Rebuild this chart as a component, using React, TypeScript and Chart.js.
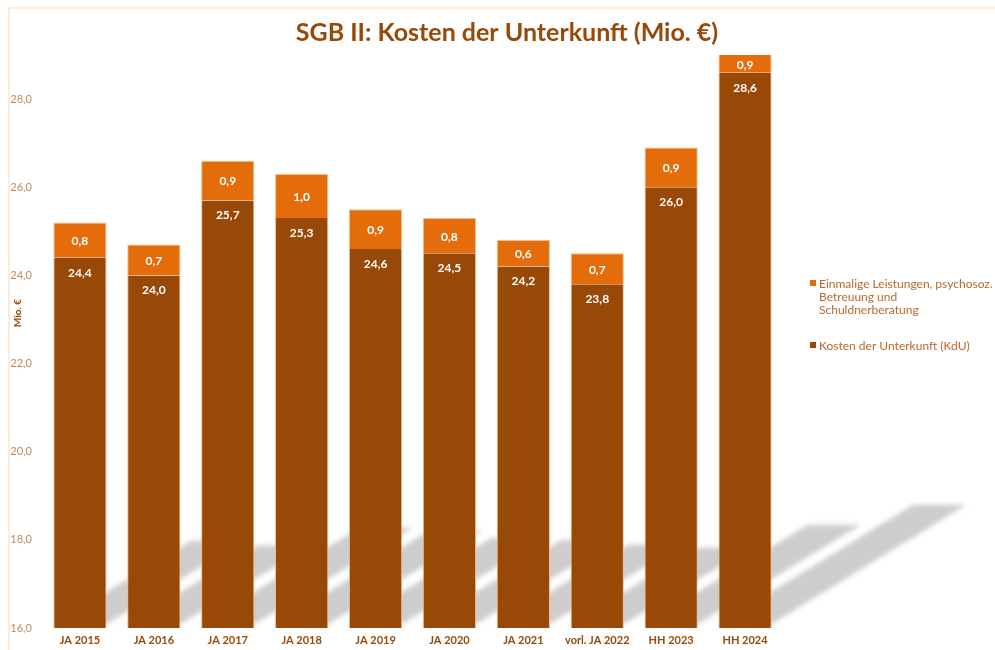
import React, { useEffect, useRef } from "react";
import { Chart, registerables } from "chart.js";

Chart.register(...registerables);

const categories = [
  "JA 2015", "JA 2016", "JA 2017", "JA 2018", "JA 2019",
  "JA 2020", "JA 2021", "vorl. JA 2022", "HH 2023", "HH 2024",
];
const kduValues = [24.4, 24.0, 25.7, 25.3, 24.6, 24.5, 24.2, 23.8, 26.0, 28.6];
const einmaligValues = [0.8, 0.7, 0.9, 1.0, 0.9, 0.8, 0.6, 0.7, 0.9, 0.9];
const yMin = 16;
const yMax = 29;
const yStep = 2;
const titleText = "SGB II: Kosten der Unterkunft (Mio. €)";
const yAxisTitle = "Mio. €";
const kduLabel = "Kosten der Unterkunft (KdU)";
const einmaligLabelLines = ["Einmalige Leistungen, psychosoz.", "Betreuung und", "Schuldnerberatung"];

const DARK = "#984807";
const ORANGE = "#E46C0A";
const FONT = "Lato, 'DejaVu Sans', sans-serif";
const fmt = (v: number) => v.toFixed(1).replace(".", ",");

const decorPlugin = {
  id: "decor",
  beforeDatasetsDraw(chart: any) {
    const ctx = chart.ctx;
    const area = chart.chartArea;
    const yScale = chart.scales.y;
    const m0 = chart.getDatasetMeta(0).data;
    const base = yScale.getPixelForValue(yMin);
    ctx.save();
    ctx.filter = "blur(2.5px)";
    ctx.fillStyle = "#cdcdcd";
    for (let i = 0; i < m0.length; i++) {
      const b: any = m0[i];
      const xCenter = b.x;
      const w = b.width;
      const topVal = kduValues[i] + einmaligValues[i];
      const top = Math.max(yScale.getPixelForValue(topVal), area.top);
      const h = base - top;
      const dy = 0.215 * h;
      const dx = 1.58 * dy;
      const lift = 4;
      const xl = xCenter - w / 2;
      const xr = xCenter + w / 2;
      ctx.beginPath();
      ctx.moveTo(xl, base - lift);
      ctx.lineTo(xr, base - lift);
      ctx.lineTo(xr + dx, base - dy);
      ctx.lineTo(xl + dx, base - dy);
      ctx.closePath();
      ctx.fill();
    }
    ctx.restore();
  },
  afterDatasetsDraw(chart: any) {
    const ctx = chart.ctx;
    const area = chart.chartArea;
    const m0 = chart.getDatasetMeta(0).data;
    const m1 = chart.getDatasetMeta(1).data;
    ctx.save();
    ctx.fillStyle = "#ffffff";
    ctx.font = `bold 12px ${FONT}`;
    ctx.textAlign = "center";
    ctx.textBaseline = "middle";
    for (let i = 0; i < m0.length; i++) {
      const b0: any = m0[i];
      ctx.fillText(fmt(kduValues[i]), b0.x, b0.y + 15);
      const b1: any = m1[i];
      const top = Math.max(b1.y, area.top);
      ctx.fillText(fmt(einmaligValues[i]), b1.x, (top + b1.base) / 2 + 1);
    }
    ctx.restore();
  },
  afterDraw(chart: any) {
    const ctx = chart.ctx;
    const area = chart.chartArea;
    const W = chart.width;
    const H = chart.height;
    ctx.save();
    ctx.strokeStyle = "#fde3cc";
    ctx.lineWidth = 1.5;
    ctx.beginPath();
    ctx.moveTo(9, H);
    ctx.lineTo(9, 8);
    ctx.lineTo(W, 8);
    ctx.stroke();
    ctx.fillStyle = DARK;
    ctx.font = `bold 25px ${FONT}`;
    ctx.textAlign = "center";
    ctx.textBaseline = "middle";
    ctx.fillText(titleText, 507, 33);
    ctx.save();
    ctx.translate(18, 313);
    ctx.rotate(-Math.PI / 2);
    ctx.font = `bold 10px ${FONT}`;
    ctx.fillText(yAxisTitle, 0, 0);
    ctx.restore();
    const lx = area.right + 28;
    ctx.textAlign = "left";
    ctx.font = `12px ${FONT}`;
    ctx.fillStyle = ORANGE;
    ctx.fillRect(lx, 280, 6, 6);
    ctx.fillStyle = "#b8692e";
    einmaligLabelLines.forEach((t, k) => ctx.fillText(t, lx + 9, 284 + k * 13));
    ctx.fillStyle = DARK;
    ctx.fillRect(lx, 342, 6, 6);
    ctx.fillStyle = "#b8692e";
    ctx.fillText(kduLabel, lx + 9, 346);
    ctx.restore();
  },
};

export default function App() {
  const ref = useRef<HTMLCanvasElement>(null);
  useEffect(() => {
    const chart = new Chart(ref.current as HTMLCanvasElement, {
      type: "bar",
      data: {
        labels: categories,
        datasets: [
          {
            label: kduLabel,
            data: kduValues,
            backgroundColor: DARK,
            borderColor: "#f2b783",
            borderWidth: 1,
            borderSkipped: "top",
            clip: 0,
            categoryPercentage: 0.72,
            barPercentage: 1,
          },
          {
            label: einmaligLabelLines.join(" "),
            data: einmaligValues,
            backgroundColor: ORANGE,
            borderColor: "#f7bd8a",
            borderWidth: 1,
            borderSkipped: "bottom",
            clip: 0,
            categoryPercentage: 0.72,
            barPercentage: 1,
          },
        ],
      },
      options: {
        responsive: false,
        animation: false,
        layout: { padding: { left: 10, right: 213, top: 55, bottom: 0 } },
        plugins: {
          legend: { display: false },
          tooltip: { enabled: false },
          title: { display: false },
        },
        scales: {
          x: {
            stacked: true,
            grid: { display: false, drawTicks: false },
            border: { display: false },
            ticks: {
              color: DARK,
              font: { family: FONT, size: 11, weight: "bold" },
              padding: 6,
              maxRotation: 0,
              autoSkip: false,
            },
            afterFit(scale: any) {
              scale.height = 22;
            },
          },
          y: {
            stacked: true,
            min: yMin,
            max: yMax,
            grid: { display: false, drawTicks: false },
            border: { display: false },
            ticks: {
              stepSize: yStep,
              includeBounds: false,
              color: "#c08a60",
              font: { family: FONT, size: 11 },
              padding: 11,
              callback: (v: any) => fmt(Number(v)),
            },
            afterFit(scale: any) {
              scale.width = 33;
            },
          },
        },
      } as any,
      plugins: [decorPlugin],
    });
    return () => chart.destroy();
  }, []);
  return (
    <div style={{ position: "fixed", left: 0, top: 0, width: 995, height: 650, background: "#fff" }}>
      <canvas ref={ref} width={995} height={650} style={{ display: "block" }} />
    </div>
  );
}
